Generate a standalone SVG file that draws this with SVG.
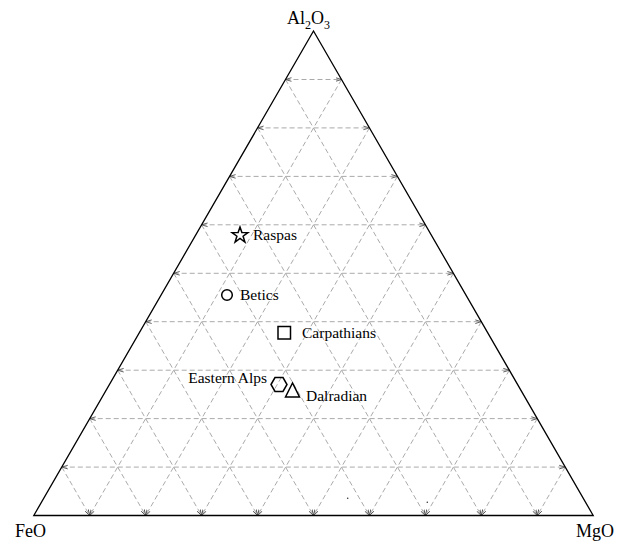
<svg xmlns="http://www.w3.org/2000/svg" width="625" height="542" viewBox="0 0 625 542">
<style>
.grid{fill:none;stroke:#a0a0a0;stroke-width:0.9;stroke-dasharray:5,3}
.h{marker-start:url(#arr);marker-end:url(#arr)}
.d{marker-end:url(#arr)}
.frame{fill:none;stroke:#000;stroke-width:1.3;stroke-linejoin:miter}
.sym{fill:none;stroke:#000;stroke-width:1.5}
.lbl{font-family:"Liberation Serif","Times New Roman",serif;font-size:15.5px;fill:#000}
.ax{font-family:"Liberation Serif","Times New Roman",serif;font-size:18px;fill:#000}
</style>
<defs>
<marker id="arr" viewBox="0 0 10 10" refX="10" refY="5" markerWidth="6" markerHeight="6" orient="auto-start-reverse" markerUnits="userSpaceOnUse">
<path d="M0,2 L10,5 L0,8" fill="none" stroke="#444" stroke-width="1.4"/>
</marker>
</defs>
<rect width="625" height="542" fill="#fff"/>
<g id="connectors">
<g id="horizontal-grid">
<line class="grid h" x1="285.5" y1="79.5" x2="341.5" y2="79.5"/>
<line class="grid h" x1="257.6" y1="127.9" x2="369.4" y2="127.9"/>
<line class="grid h" x1="229.6" y1="176.4" x2="397.4" y2="176.4"/>
<line class="grid h" x1="201.6" y1="224.8" x2="425.4" y2="224.8"/>
<line class="grid h" x1="173.7" y1="273.3" x2="453.4" y2="273.3"/>
<line class="grid h" x1="145.7" y1="321.7" x2="481.3" y2="321.7"/>
<line class="grid h" x1="117.7" y1="370.2" x2="509.3" y2="370.2"/>
<line class="grid h" x1="89.7" y1="418.6" x2="537.3" y2="418.6"/>
<line class="grid h" x1="61.8" y1="467.1" x2="565.2" y2="467.1"/>
</g>
<g id="left-diagonals">
<line class="grid d" x1="285.5" y1="79.5" x2="537.3" y2="515.5"/>
<line class="grid d" x1="257.6" y1="127.9" x2="481.3" y2="515.5"/>
<line class="grid d" x1="229.6" y1="176.4" x2="425.4" y2="515.5"/>
<line class="grid d" x1="201.6" y1="224.8" x2="369.4" y2="515.5"/>
<line class="grid d" x1="173.7" y1="273.3" x2="313.5" y2="515.5"/>
<line class="grid d" x1="145.7" y1="321.7" x2="257.6" y2="515.5"/>
<line class="grid d" x1="117.7" y1="370.2" x2="201.6" y2="515.5"/>
<line class="grid d" x1="89.7" y1="418.6" x2="145.7" y2="515.5"/>
<line class="grid d" x1="61.8" y1="467.1" x2="89.7" y2="515.5"/>
</g>
<g id="right-diagonals">
<line class="grid d" x1="341.5" y1="79.5" x2="89.7" y2="515.5"/>
<line class="grid d" x1="369.4" y1="127.9" x2="145.7" y2="515.5"/>
<line class="grid d" x1="397.4" y1="176.4" x2="201.6" y2="515.5"/>
<line class="grid d" x1="425.4" y1="224.8" x2="257.6" y2="515.5"/>
<line class="grid d" x1="453.4" y1="273.3" x2="313.5" y2="515.5"/>
<line class="grid d" x1="481.3" y1="321.7" x2="369.4" y2="515.5"/>
<line class="grid d" x1="509.3" y1="370.2" x2="425.4" y2="515.5"/>
<line class="grid d" x1="537.3" y1="418.6" x2="481.3" y2="515.5"/>
<line class="grid d" x1="565.2" y1="467.1" x2="537.3" y2="515.5"/>
</g>
</g>
<g id="frame">
<polygon class="frame" points="313.5,31 593.2,515.5 33.8,515.5"/>
</g>
<g id="axis-labels">
<text class="ax" x="287" y="24">Al<tspan font-size="12" dy="5">2</tspan><tspan dy="-5">O</tspan><tspan font-size="12" dy="5">3</tspan></text>
<text class="ax" x="15" y="537">FeO</text>
<text class="ax" x="576" y="537">MgO</text>
</g>
<g id="raspas">
<polygon class="sym" points="240,227 241.9,232.5 247.9,232.6 243.1,236.2 244.9,242 240,238.5 235.1,242 236.9,236.2 232.1,232.6 238.1,232.5"/>
<text class="lbl" x="253" y="240">Raspas</text>
</g>
<g id="betics">
<circle class="sym" cx="227" cy="295" r="5.3"/>
<text class="lbl" x="240" y="299.5">Betics</text>
</g>
<g id="carpathians">
<rect class="sym" x="278" y="326.5" width="12.5" height="12.5"/>
<text class="lbl" x="302" y="338">Carpathians</text>
</g>
<g id="eastern-alps">
<polygon class="sym" points="271,384.5 275,377.6 283,377.6 287,384.5 283,391.4 275,391.4"/>
<text class="lbl" x="267" y="382.5" text-anchor="end">Eastern Alps</text>
</g>
<g id="dalradian">
<polygon class="sym" points="292.5,383 285.5,397 299.5,397"/>
<text class="lbl" x="306" y="401">Dalradian</text>
</g>
<g id="dots">
<circle cx="347.7" cy="498.3" r="0.8" fill="#333"/>
<circle cx="427.3" cy="502.3" r="0.8" fill="#333"/>
</g>
</svg>
